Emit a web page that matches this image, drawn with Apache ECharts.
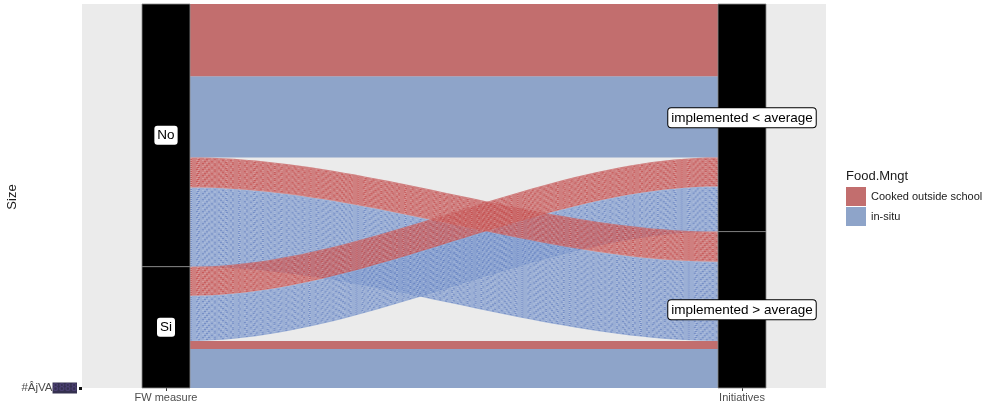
<!DOCTYPE html>
<html>
<head>
<meta charset="utf-8">
<script src="https://cdn.jsdelivr.net/npm/echarts@6/dist/echarts.min.js"></script>
<style>html,body{margin:0;padding:0;background:#fff}#c{width:998px;height:409px}</style>
</head>
<body>
<div id="c"></div>
<script>
// ---- data ----
const fwLevels = ['No', 'Si'];                                             // left axis strata (top to bottom)
const initLevels = ['implemented < average', 'implemented > average'];     // right axis strata
const foodLevels = ['Cooked outside school', 'in-situ'];                   // fill
const axisNames = ['FW measure', 'Initiatives'];
// counts per (FW measure, Initiatives) combination, order: No/<, No/>, Si/<, Si/>
const comboFw   = ['No', 'No', 'Si', 'Si'];
const comboInit = ['implemented < average', 'implemented > average', 'implemented < average', 'implemented > average'];
const cookedCounts = [72, 30, 29, 8];
const insituCounts = [81, 79, 45, 39];
const yTickValues = [0];
const yTickLabels = ['#ÂjVA'];
const yTitle = 'Size';
const legendTitle = 'Food.Mngt';

// ---- build lodes ----
const foodColors = ['#C26E6E', '#8EA4C9'];
const flows = [];
comboFw.forEach((fw, i) => {
  flows.push({fw: fw, init: comboInit[i], food: 0, n: cookedCounts[i]});
  flows.push({fw: fw, init: comboInit[i], food: 1, n: insituCounts[i]});
});
const total = flows.reduce((a, f) => a + f.n, 0);
function stack(list, keyFn, side) {
  const s = list.slice().sort((a, b) => keyFn(a) - keyFn(b));
  let top = total;
  s.forEach(f => { f[side + 'Top'] = top; top -= f.n; f[side + 'Bot'] = top; });
}
stack(flows, f => fwLevels.indexOf(f.fw) * 100 + initLevels.indexOf(f.init) * 10 + f.food, 'l');
stack(flows, f => initLevels.indexOf(f.init) * 100 + fwLevels.indexOf(f.fw) * 10 + f.food, 'r');

const W = 1 / 12; // stratum width in axis units
const flowData = flows
  .map(f => [1 + W / 2, 2 - W / 2, f.lTop, f.lBot, f.rTop, f.rBot, f.food, f.n, f.lTop === f.rTop ? 1 : 0])
  .sort((a, b) => a[8] - b[8] === 0 ? b[6] - a[6] : b[8] - a[8]);

// strata
const strataData = [];
function strataFor(levels, keyName, xpos) {
  let top = total;
  levels.forEach(lv => {
    const n = flows.filter(f => f[keyName] === lv).reduce((a, f) => a + f.n, 0);
    strataData.push([xpos, top - n, top, lv]);
    top -= n;
  });
}
strataFor(fwLevels, 'fw', 1);
strataFor(initLevels, 'init', 2);

function ease(t) { return t * t * (3 - 2 * t); }

const chart = echarts.init(document.getElementById('c'));
chart.setOption({
  animation: false,
  grid: {left: 82, right: 172, top: 4, bottom: 21, show: true, backgroundColor: '#EBEBEB', borderWidth: 0, outerBoundsMode: 'none', containLabel: false},
  xAxis: {
    type: 'value', min: 1 - 84 / 576, max: 2 + 84 / 576,
    splitLine: {show: false}, axisLine: {show: false},
    axisTick: {show: true, customValues: [1, 2], length: 3, lineStyle: {color: '#333', width: 1}},
    axisLabel: {customValues: [1, 2], formatter: v => axisNames[Math.round(v) - 1], color: '#4d4d4d', fontSize: 11, fontFamily: 'Liberation Sans, Arial', margin: 4}
  },
  yAxis: {
    type: 'value', min: 0, max: total,
    splitLine: {show: false}, axisLine: {show: false},
    axisTick: {show: true, customValues: yTickValues, length: 3, lineStyle: {color: '#111', width: 3}},
    axisLabel: {
      customValues: yTickValues, margin: 5,
      formatter: v => '{a|' + yTickLabels[yTickValues.indexOf(v)] + '}{b|8888}',
      rich: {
        a: {color: '#4d4d4d', fontSize: 11.5, fontFamily: 'Liberation Sans, Arial'},
        b: {color: '#4a3f70', fontSize: 11, fontWeight: 'bold', fontFamily: 'Liberation Sans, Arial', backgroundColor: '#34304f'}
      }
    }
  },
  legend: {
    left: 846, top: 187, orient: 'vertical', itemWidth: 20, itemHeight: 19, itemGap: 1, padding: 0,
    icon: 'rect', selectedMode: false,
    textStyle: {color: '#1a1a1a', fontSize: 11, fontFamily: 'Liberation Sans, Arial'},
    data: foodLevels
  },
  graphic: [
    {type: 'text', left: 846, top: 170, style: {text: legendTitle, fill: '#1a1a1a', fontSize: 13, fontFamily: 'Liberation Sans, Arial'}},
    {type: 'text', x: 12, y: 197, rotation: Math.PI / 2,
      style: {text: yTitle, fill: '#1a1a1a', fontSize: 13, fontFamily: 'Liberation Sans, Arial', align: 'center', verticalAlign: 'middle'}}
  ],
  series: [
    {type: 'bar', name: foodLevels[0], data: [], itemStyle: {color: foodColors[0]}},
    {type: 'bar', name: foodLevels[1], data: [], itemStyle: {color: foodColors[1]}},
    {
      type: 'custom', name: 'flows', silent: true,
      data: flowData,
      encode: {x: [0, 1], y: [2, 3, 4, 5]},
      renderItem: function (params, api) {
        const x0 = api.value(0), x1 = api.value(1);
        const lt = api.value(2), lb = api.value(3), rt = api.value(4), rb = api.value(5);
        const food = api.value(6), n = api.value(7), flat = api.value(8);
        const N = 48;
        const topPts = [], botPts = [];
        for (let i = 0; i <= N; i++) {
          const t = i / N, s = ease(t), x = x0 + (x1 - x0) * t;
          topPts.push(api.coord([x, lt + (rt - lt) * s]));
          botPts.push(api.coord([x, lb + (rb - lb) * s]));
        }
        const children = [{
          type: 'polygon',
          shape: {points: topPts.concat(botPts.reverse())},
          style: {fill: flat ? foodColors[food] : (food === 0 ? '#C86464' : '#87A0CF'), opacity: flat ? 1 : 0.8}
        }];
        if (!flat) {
          // one line per observation (alluvium), giving the texture of the original
          for (let k = 1; k < n; k++) {
            const pts = [];
            const a = lt - k, b = rt - k;
            for (let i = 0; i <= N; i++) {
              const t = i / N, s = ease(t), x = x0 + (x1 - x0) * t;
              pts.push(api.coord([x, a + (b - a) * s]));
            }
            children.push({type: 'polyline', shape: {points: pts},
              style: {stroke: k % 2 ? 'rgba(255,255,255,0.3)' : (food === 0 ? 'rgba(185,20,20,0.5)' : 'rgba(40,75,170,0.5)'),
                lineWidth: 0.7, lineDash: [2, 4 + (k % 3)], fill: null}});
          }
        }
        return {type: 'group', children: children};
      },
      z: 2
    },
    {
      type: 'custom', name: 'strata', silent: true,
      data: strataData,
      encode: {x: 0, y: [1, 2]},
      renderItem: function (params, api) {
        const x = api.value(0), yb = api.value(1), yt = api.value(2);
        const p0 = api.coord([x - W / 2, yt]);
        const p1 = api.coord([x + W / 2, yb]);
        const c = api.coord([x, (yb + yt) / 2]);
        const label = strataData[params.dataIndex][3];
        return {type: 'group', children: [
          {type: 'rect', shape: {x: p0[0], y: p0[1], width: p1[0] - p0[0], height: p1[1] - p0[1]},
            style: {fill: '#000', stroke: '#8a8a8a', lineWidth: 0.8}},
          {type: 'text', x: c[0], y: c[1], z2: 10,
            style: {text: label, align: 'center', verticalAlign: 'middle', fill: '#000', fontSize: 13.5,
              fontFamily: 'Liberation Sans, Arial', backgroundColor: '#fff', borderColor: '#000', borderWidth: 1,
              borderRadius: 3, padding: [3, 3, 2, 3]}}
        ]};
      },
      z: 3
    }
  ]
});
</script>
</body>
</html>
